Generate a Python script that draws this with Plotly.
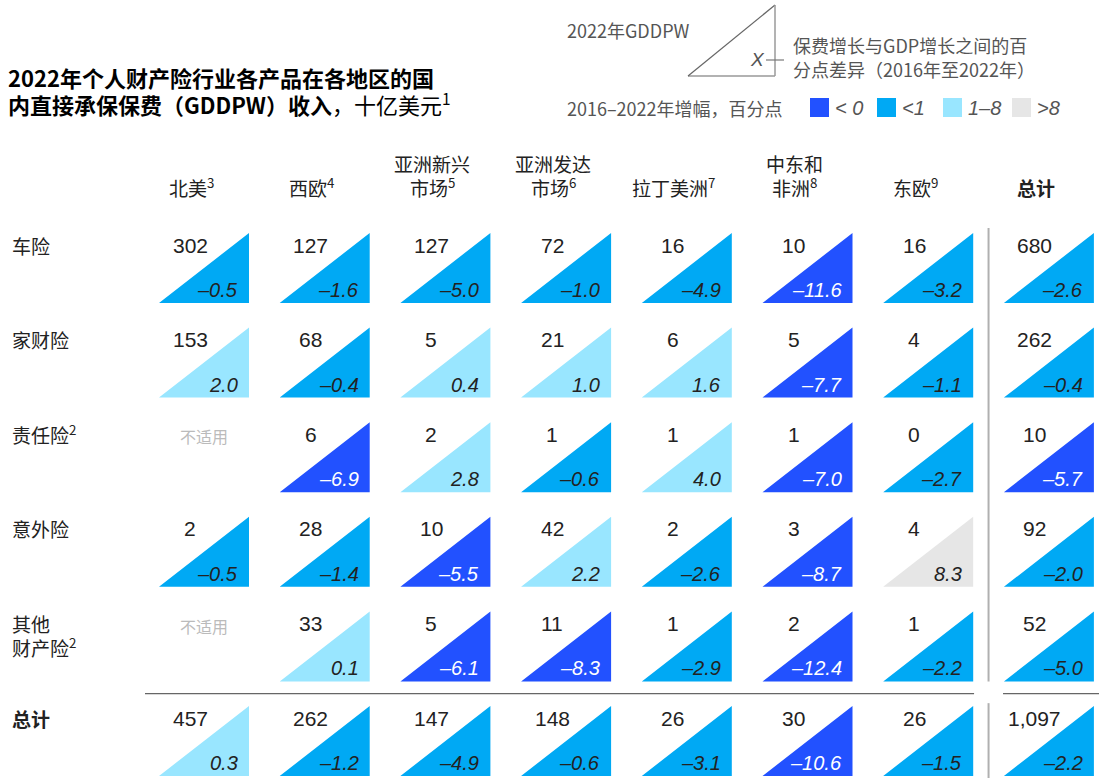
import plotly.graph_objects as go

# ---------------- data ----------------
regions = ["北美<sup>3</sup>", "西欧<sup>4</sup>", "亚洲新兴<br>市场<sup>5</sup>", "亚洲发达<br>市场<sup>6</sup>",
           "拉丁美洲<sup>7</sup>", "中东和<br>非洲<sup>8</sup>", "东欧<sup>9</sup>", "<b>总计</b>"]
products = ["车险", "家财险", "责任险<sup>2</sup>", "意外险", "其他<br>财产险<sup>2</sup>", "<b>总计</b>"]

gddpw_auto = [302, 127, 127, 72, 16, 10, 16, 680]
gddpw_home = [153, 68, 5, 21, 6, 5, 4, 262]
gddpw_liab = [None, 6, 2, 1, 1, 1, 0, 10]
gddpw_acc = [2, 28, 10, 42, 2, 3, 4, 92]
gddpw_other = [None, 33, 5, 11, 1, 2, 1, 52]
gddpw_total = [457, 262, 147, 148, 26, 30, 26, 1097]

diff_auto = [-0.5, -1.6, -5.0, -1.0, -4.9, -11.6, -3.2, -2.6]
diff_home = [2.0, -0.4, 0.4, 1.0, 1.6, -7.7, -1.1, -0.4]
diff_liab = [None, -6.9, 2.8, -0.6, 4.0, -7.0, -2.7, -5.7]
diff_acc = [-0.5, -1.4, -5.5, 2.2, -2.6, -8.7, 8.3, -2.0]
diff_other = [None, 0.1, -6.1, -8.3, -2.9, -12.4, -2.2, -5.0]
diff_total = [0.3, -1.2, -4.9, -0.6, -3.1, -10.6, -1.5, -2.2]

gddpw = [gddpw_auto, gddpw_home, gddpw_liab, gddpw_acc, gddpw_other, gddpw_total]
diffs = [diff_auto, diff_home, diff_liab, diff_acc, diff_other, diff_total]

legend_labels = ["<i>&lt; 0</i>", "<i>&lt;1</i>", "<i>1–8</i>", "<i>&gt;8</i>"]

# ---------------- style ----------------
W, H = 1106, 778
PX, PY = 120.7, 94.6          # pixels per column / row
X0, Y0 = 204.0, 268.0         # pixel centre of first cell
HW, HH = 45 / PX, 35 / PY     # triangle half width/height in axis units
COLORS = ["#2251FF", "#00A9F4", "#99E6FF", "#E6E6E6"]
CJK = "Noto Sans CJK SC"
NUM = "Liberation Sans"
GREY = "#555555"
LINE_GAP = 24


def cat(v):
    if v < -5:
        return 0
    if v <= 0:
        return 1
    if v <= 8:
        return 2
    return 3


def px(x):
    return x / W


def py(y):
    return 1 - y / H


fig = go.Figure()

# triangles, one trace per colour class
polys = {k: ([], []) for k in range(4)}
for r, row in enumerate(diffs):
    for c, v in enumerate(row):
        if v is None:
            continue
        xs, ys = polys[cat(v)]
        xs += [c - HW, c + HW, c + HW, c - HW, None]
        ys += [r + HH, r + HH, r - HH, r + HH, None]
for k in range(4):
    xs, ys = polys[k]
    if not xs:
        continue
    fig.add_trace(go.Scatter(x=xs, y=ys, mode="lines", fill="toself",
                             fillcolor=COLORS[k], line=dict(width=0, color=COLORS[k]),
                             hoverinfo="skip", showlegend=False))

ann = []
# cell texts
for r in range(len(products)):
    for c in range(len(regions)):
        g = gddpw[r][c]
        v = diffs[r][c]
        if g is None:
            ann.append(dict(x=c, y=r - 0.22, xref="x", yref="y", text="不适用", showarrow=False,
                            font=dict(family=CJK, size=16, color="#BBBBBB"),
                            xanchor="center", yanchor="middle"))
            continue
        ann.append(dict(x=c - HW + 31 / PX, y=r - HH + 12 / PY, xref="x", yref="y",
                        text=f"{g:,}", showarrow=False,
                        font=dict(family=NUM, size=21, color="#222222"),
                        xanchor="center", yanchor="middle"))
        txt = f"{v:.1f}".replace("-", "–")
        ann.append(dict(x=c + HW - 9 / PX, y=r + HH - 13 / PY, xref="x", yref="y",
                        text=f"<i>{txt}</i>", showarrow=False,
                        font=dict(family=NUM, size=20,
                                  color="#FFFFFF" if cat(v) == 0 else "#222222"),
                        xanchor="right", yanchor="middle"))

# column headers (each line placed separately; last line centred at y=187px)
for c, lab in enumerate(regions):
    lines = lab.split("<br>")
    n = len(lines)
    for i, ln in enumerate(lines):
        yc = 187 - (n - 1 - i) * LINE_GAP
        ann.append(dict(x=c - HW + 32 / PX, y=(yc - Y0) / PY, xref="x", yref="y", text=ln,
                        showarrow=False, borderpad=0,
                        font=dict(family=CJK, size=19, color="#222222"),
                        xanchor="center", yanchor="middle"))

# row labels (first line centred 12px below the triangle top)
for r, lab in enumerate(products):
    for i, ln in enumerate(lab.split("<br>")):
        ann.append(dict(x=px(11), y=r - HH + (12 + LINE_GAP * i) / PY, xref="paper", yref="y",
                        text=ln, showarrow=False, borderpad=0,
                        font=dict(family=CJK, size=19, color="#222222"),
                        xanchor="left", yanchor="middle"))

# title
ann.append(dict(x=px(7), y=py(77), xref="paper", yref="paper",
                text="<b>2022年个人财产险行业各产品在各地区的国</b>",
                showarrow=False, borderpad=0, font=dict(family=CJK, size=22, color="#000000"),
                xanchor="left", yanchor="middle"))
ann.append(dict(x=px(7), y=py(104), xref="paper", yref="paper",
                text="<b>内直接承保保费（GDDPW）收入</b>，十亿美元<sup>1</sup>",
                showarrow=False, borderpad=0, font=dict(family=CJK, size=22, color="#000000"),
                xanchor="left", yanchor="middle"))

# legend texts
ann.append(dict(x=px(565), y=py(30), xref="paper", yref="paper", text="2022年GDDPW",
                showarrow=False, font=dict(family=CJK, size=18, color=GREY),
                xanchor="left", yanchor="middle"))
ann.append(dict(x=px(757), y=py(60), xref="paper", yref="paper", text="<i>X</i>",
                showarrow=False, font=dict(family=NUM, size=19, color=GREY),
                xanchor="center", yanchor="middle"))
ann.append(dict(x=px(792), y=py(45), xref="paper", yref="paper", text="保费增长与GDP增长之间的百",
                showarrow=False, borderpad=0, font=dict(family=CJK, size=18, color=GREY),
                xanchor="left", yanchor="middle"))
ann.append(dict(x=px(792), y=py(69), xref="paper", yref="paper", text="分点差异（2016年至2022年）",
                showarrow=False, borderpad=0, font=dict(family=CJK, size=18, color=GREY),
                xanchor="left", yanchor="middle"))
ann.append(dict(x=px(565), y=py(108), xref="paper", yref="paper", text="2016–2022年增幅，百分点",
                showarrow=False, font=dict(family=CJK, size=18, color=GREY),
                xanchor="left", yanchor="middle"))

shapes = []
sw_x = [810, 877, 943, 1012]
for k, lab in enumerate(legend_labels):
    shapes.append(dict(type="rect", xref="paper", yref="paper",
                       x0=px(sw_x[k]), x1=px(sw_x[k] + 19), y0=py(117), y1=py(98),
                       fillcolor=COLORS[k], line=dict(width=0)))
    ann.append(dict(x=px(sw_x[k] + 23), y=py(108), xref="paper", yref="paper", text=lab,
                    showarrow=False, font=dict(family=NUM, size=20, color=GREY),
                    xanchor="left", yanchor="middle"))

# legend triangle outline
shapes.append(dict(type="path", xref="paper", yref="paper",
                   path=f"M {px(688)} {py(76)} L {px(775)} {py(5)}",
                   line=dict(color="#666666", width=1.2)))
shapes.append(dict(type="line", xref="paper", yref="paper",
                   x0=px(688), x1=px(775), y0=py(76), y1=py(76),
                   line=dict(color="#666666", width=1.2)))
shapes.append(dict(type="line", xref="paper", yref="paper",
                   x0=px(775), x1=px(775), y0=py(76), y1=py(5),
                   line=dict(color="#9A9A9A", width=1.5)))
shapes.append(dict(type="line", xref="paper", yref="paper",
                   x0=px(766), x1=px(784), y0=py(60), y1=py(60),
                   line=dict(color="#777777", width=1.2)))

# separators
nC, nR = len(regions), len(products)
shapes.append(dict(type="line", xref="x", yref="y", x0=nC - 1.5, x1=nC - 1.5,
                   y0=(228 - Y0) / PY, y1=nR - 1.5 - 0.13,
                   line=dict(color="#B0B0B0", width=2)))
shapes.append(dict(type="line", xref="x", yref="y", x0=nC - 1.5, x1=nC - 1.5,
                   y0=nR - 1.5 + 0.1, y1=(H - Y0) / PY,
                   line=dict(color="#B0B0B0", width=2)))
shapes.append(dict(type="line", xref="x", yref="y", x0=(145 - X0) / PX, x1=nC - 1.62,
                   y0=nR - 1.5, y1=nR - 1.5, line=dict(color="#666666", width=1.2)))
shapes.append(dict(type="line", xref="x", yref="y", x0=nC - 1.38, x1=(1099 - X0) / PX,
                   y0=nR - 1.5, y1=nR - 1.5, line=dict(color="#666666", width=1.2)))

fig.update_layout(
    width=W, height=H, margin=dict(l=0, r=0, t=0, b=0),
    paper_bgcolor="white", plot_bgcolor="white",
    xaxis=dict(range=[-X0 / PX, (W - X0) / PX], visible=False, fixedrange=True),
    yaxis=dict(range=[(H - Y0) / PY, -Y0 / PY], visible=False, fixedrange=True),
    annotations=ann, shapes=shapes, showlegend=False,
)

fig.write_html("out.html")
